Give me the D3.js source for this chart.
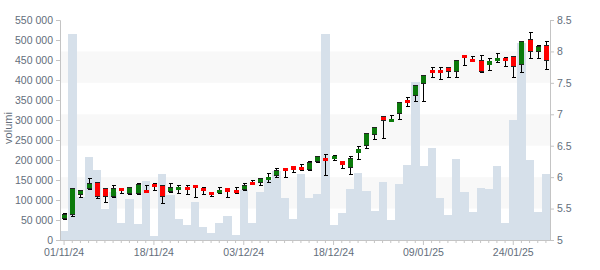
<!DOCTYPE html>
<html><head><meta charset="utf-8">
<script src="https://cdn.jsdelivr.net/npm/d3@7"></script>
<style>
html,body{margin:0;padding:0;background:#fff;}
svg{display:block;font-family:"Liberation Sans",Arial,sans-serif;}
</style></head><body>
<svg id="c" width="600" height="270"></svg>
<script>
const dates = ["01/11/24","04/11/24","05/11/24","06/11/24","07/11/24","08/11/24","11/11/24","12/11/24","13/11/24","14/11/24","15/11/24","18/11/24","19/11/24","20/11/24","21/11/24","22/11/24","25/11/24","26/11/24","27/11/24","28/11/24","29/11/24",
"02/12/24","03/12/24","04/12/24","05/12/24","06/12/24","09/12/24","10/12/24","11/12/24","12/12/24","13/12/24","16/12/24","17/12/24","18/12/24","19/12/24","20/12/24","23/12/24","27/12/24","30/12/24",
"02/01/25","03/01/25","06/01/25","07/01/25","08/01/25","09/01/25","10/01/25","13/01/25","14/01/25","15/01/25","16/01/25","17/01/25","20/01/25","21/01/25","22/01/25","23/01/25","24/01/25","27/01/25","28/01/25","29/01/25","30/01/25"];
const openP  = [5.34,5.40,5.72,5.81,5.92,5.82,5.69,5.82,5.73,5.73,5.80,5.89,5.88,5.76,5.82,5.84,5.88,5.83,5.76,5.75,5.83,5.80,5.79,5.92,5.90,5.95,6.02,6.14,6.17,6.16,6.12,6.24,6.31,6.30,6.25,6.14,6.38,6.49,6.67,6.98,6.90,7.00,7.22,7.29,7.48,7.71,7.71,7.76,7.67,7.95,7.88,7.87,7.79,7.86,7.90,7.92,7.78,8.19,7.99,8.11];
const highP  = [5.43,5.83,5.80,5.99,5.93,5.82,5.87,5.82,5.85,5.90,5.87,5.91,5.88,5.91,5.87,5.87,5.88,5.84,5.76,5.84,5.83,5.84,5.91,5.96,5.99,6.07,6.14,6.15,6.17,6.21,6.25,6.33,6.37,6.36,6.25,6.33,6.50,6.70,6.79,6.98,6.99,7.20,7.27,7.46,7.62,7.76,7.75,7.76,7.87,7.95,7.93,7.94,7.90,7.97,7.91,7.93,8.17,8.31,8.10,8.16];
const lowP   = [5.33,5.38,5.68,5.81,5.67,5.60,5.69,5.74,5.73,5.73,5.76,5.79,5.59,5.76,5.75,5.73,5.69,5.73,5.70,5.75,5.69,5.75,5.79,5.89,5.87,5.92,6.00,6.00,6.08,6.11,6.12,6.24,6.03,6.27,6.14,6.05,6.29,6.47,6.61,6.62,6.89,6.92,7.13,7.21,7.21,7.60,7.56,7.59,7.59,7.78,7.85,7.67,7.70,7.83,7.77,7.59,7.67,7.90,7.90,7.72];
const closeP = [5.42,5.82,5.80,5.90,5.68,5.69,5.82,5.79,5.84,5.89,5.76,5.85,5.69,5.85,5.85,5.81,5.84,5.79,5.73,5.80,5.76,5.76,5.88,5.89,5.98,6.01,6.12,6.09,6.11,6.12,6.24,6.33,6.28,6.33,6.19,6.31,6.45,6.70,6.79,6.90,6.93,7.20,7.19,7.46,7.62,7.68,7.66,7.68,7.87,7.89,7.85,7.67,7.85,7.90,7.84,7.76,8.17,7.99,8.08,7.84];
const volumes = [23000,516000,107000,208000,174000,78000,119000,43000,103000,41000,147000,9000,166000,113000,52000,38000,96000,32000,18000,43000,61000,13000,125000,43000,121000,149000,173000,106000,53000,166000,106000,116000,516000,38000,68000,128000,168000,123000,73000,146000,51000,141000,188000,394000,186000,229000,106000,63000,203000,121000,71000,131000,127000,186000,43000,301000,492000,199000,71000,166000];
const volumeTicks = [0,50000,100000,150000,200000,250000,300000,350000,400000,450000,500000,550000];
const priceTicks = [5,5.5,6,6.5,7,7.5,8,8.5];
const dateLabels = ["01/11/24","18/11/24","03/12/24","18/12/24","09/01/25","24/01/25"];
const bandRanges = [[5.5,6],[6.5,7],[7.5,8]];
const yLabel = "volumi";

const L = 60, R = 550, T = 20, B = 240;
const textColor = "#636e7b", axisColor = "#c4c4c4";
const svg = d3.select("#c");
const x = d3.scaleBand().domain(dates).range([L, R]).padding(0);
const yV = d3.scaleLinear().domain([0, 550000]).range([B, T]);
const yP = d3.scaleLinear().domain([5, 8.5]).range([B, T]);
const loc = d3.formatLocale({thousands:" ", grouping:[3], decimal:",", currency:["",""]});
const fmtV = loc.format(",");

// bands
svg.append("g").selectAll("rect").data(bandRanges).join("rect")
  .attr("x", L).attr("width", R - L)
  .attr("y", d => yP(d[1])).attr("height", d => yP(d[0]) - yP(d[1]))
  .attr("fill", "#f8f8f8");

// volume bars
svg.append("g").attr("shape-rendering","crispEdges").selectAll("rect").data(dates).join("rect")
  .attr("x", d => x(d)).attr("width", x.bandwidth() + 0.3)
  .attr("y", (d,i) => yV(volumes[i])).attr("height", (d,i) => B - yV(volumes[i]))
  .attr("fill", "#d6e0ea");

// candles
const cg = svg.append("g").attr("shape-rendering","crispEdges");
const bw = 5, cw = 4;
dates.forEach((d,i) => {
  const cx = Math.round(x(d) + x.bandwidth()/2) + 0.5;
  const yh = Math.round(yP(highP[i])) + 0.5, yl = Math.round(yP(lowP[i])) + 0.5;
  const yo = Math.round(yP(openP[i])), yc = Math.round(yP(closeP[i]));
  const up = closeP[i] >= openP[i];
  cg.append("line").attr("x1",cx).attr("x2",cx).attr("y1",yh).attr("y2",yl).attr("stroke","#000").attr("stroke-width",1.2);
  cg.append("line").attr("x1",cx-cw/2).attr("x2",cx+cw/2).attr("y1",yh).attr("y2",yh).attr("stroke","#000");
  cg.append("line").attr("x1",cx-cw/2).attr("x2",cx+cw/2).attr("y1",yl).attr("y2",yl).attr("stroke","#000");
  const top = Math.min(yo,yc), bot = Math.max(yo,yc);
  const h = Math.max(bot - top, 3);
  cg.append("rect").attr("x", cx - 0.5 - bw/2).attr("width", bw).attr("y", top).attr("height", h)
    .attr("fill", up ? "#0b7a0b" : "#ff0000");
  if (h >= 5) {
    cg.append("line").attr("x1",cx-0.5-bw/2).attr("x2",cx-0.5+bw/2).attr("y1",top+0.5).attr("y2",top+0.5).attr("stroke","#222");
    cg.append("line").attr("x1",cx-0.5-bw/2).attr("x2",cx-0.5+bw/2).attr("y1",top+h-0.5).attr("y2",top+h-0.5).attr("stroke","#222");
  }
});

function styleAxis(g){
  g.select(".domain").attr("stroke", axisColor);
  g.selectAll(".tick line").attr("stroke", axisColor);
  g.selectAll(".tick text").attr("fill", textColor).attr("font-size", "10.5px").attr("font-family","Liberation Sans, Arial, sans-serif");
}
// left axis
svg.append("g").attr("transform", `translate(${L},0)`)
  .call(d3.axisLeft(yV).tickValues(volumeTicks).tickFormat(fmtV).tickSizeOuter(0).tickSize(4).tickPadding(3))
  .call(styleAxis);
// right axis
svg.append("g").attr("transform", `translate(${R},0)`)
  .call(d3.axisRight(yP).tickValues(priceTicks).tickFormat(d => String(d)).tickSizeOuter(0).tickSize(4).tickPadding(3))
  .call(styleAxis);
// bottom axis
const xg = svg.append("g").attr("transform", `translate(0,${B})`)
  .call(d3.axisBottom(x).tickValues(dates).tickFormat(d => dateLabels.includes(d) ? d : "").tickSizeOuter(0).tickSize(3).tickPadding(6))
  .call(styleAxis);
xg.selectAll(".tick").filter(d => dateLabels.includes(d)).select("line").attr("y2", 5);
xg.select(".domain").attr("d", `M${L},0.5H${R}`);

// y label
svg.append("text").attr("transform", `translate(12,128) rotate(-90)`)
  .attr("text-anchor","middle").attr("fill", textColor).attr("font-size","11px").text(yLabel);
</script>
</body></html>
